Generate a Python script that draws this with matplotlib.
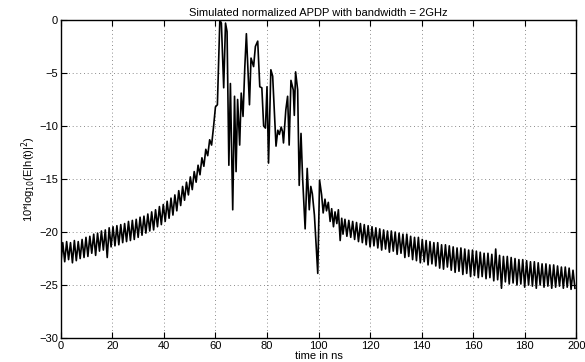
import matplotlib
matplotlib.use("Agg")
import matplotlib.pyplot as plt
import numpy as np

plt.rcParams['font.family'] = ['Liberation Sans', 'DejaVu Sans']

# rising part before the first arrival, sampled every 0.75 ns
dt = 0.75
db_rise = [
    -23.0, -21.0, -22.8, -20.9, -22.6, -21.0, -22.9, -20.8, -22.7, -20.9,
    -22.5, -20.7, -22.4, -20.5, -22.3, -20.4, -22.0, -20.2, -22.2, -20.1,
    -21.8, -19.9, -21.7, -19.8, -22.4, -19.6, -21.4, -19.5, -21.3, -19.4,
    -21.2, -19.3, -21.0, -19.2, -20.9, -19.0, -20.8, -18.9, -20.7, -18.8,
    -20.5, -18.6, -20.3, -18.5, -20.1, -18.3, -19.9, -18.1, -19.8, -17.9,
    -19.5, -17.6, -19.3, -17.4, -19.0, -17.1, -18.7, -16.8, -18.4, -16.5,
    -18.0, -16.1, -17.5, -15.7, -17.0, -15.3, -16.5, -14.8, -16.0, -14.3,
    -15.3, -13.7, -14.6, -13.0, -13.8, -12.2, -12.8, -11.3, -11.8, -10.1,
    -8.2, -8.0,
]

# multipath burst, times
t_burst = [
    61.7, 62.3, 63.2, 63.9, 64.5, 65.2, 65.8, 66.7, 67.4, 68.0,
    68.6, 69.4, 70.0, 70.7, 71.4, 72.0, 73.2, 73.8, 74.8, 75.5,
    76.4, 77.2, 78.0, 78.7, 79.4, 80.0, 80.6, 81.5, 82.2, 83.5,
    84.2, 84.8, 85.5, 86.0, 86.4, 87.3, 88.0, 88.6, 89.3, 90.2,
    90.6, 91.1, 91.9, 92.5, 93.2, 93.8, 94.8, 95.6, 96.4, 97.0,
    97.6, 98.4, 99.7, 100.4, 101.2, 101.8, 102.5, 103.1, 103.8, 104.5,
    105.1, 105.8, 106.4, 107.1, 107.7, 108.4, 109.0,
]
db_burst = [
    0.0, -0.3, -6.4, -0.3, -1.1, -13.7, -6.0, -17.9, -7.2, -14.3,
    -7.5, -11.8, -6.9, -9.1, -4.4, -1.3, -8.0, -3.6, -4.4, -2.5,
    -2.0, -6.3, -6.4, -10.0, -10.2, -6.3, -13.5, -4.7, -5.3, -11.9,
    -10.4, -10.8, -10.1, -10.5, -11.6, -8.5, -7.2, -11.8, -5.7, -6.6,
    -9.0, -4.9, -6.6, -15.6, -10.7, -14.8, -19.7, -14.0, -17.9, -15.7,
    -16.4, -18.4, -23.9, -15.1, -16.5, -18.2, -16.9, -18.0, -17.2, -19.0,
    -17.8, -19.5, -18.1, -19.2, -17.9, -20.8, -18.7,
]

# decaying tail, from 109.5 ns every 0.75 ns
t_tail0 = 109.5
db_tail = [
    -20.2, -18.8, -20.4, -18.9, -20.5, -19.0, -20.7, -19.1, -20.9, -19.2,
    -21.0, -19.3, -21.2, -19.4, -21.4, -19.5, -21.3, -19.6, -21.5, -19.7,
    -21.7, -19.8, -21.6, -19.9, -21.9, -19.9, -21.8, -20.0, -22.1, -20.1,
    -22.0, -20.2, -22.4, -20.2, -22.3, -20.4, -22.6, -20.5, -22.7, -20.5,
    -22.9, -20.7, -22.8, -20.8, -23.1, -20.9, -23.0, -21.0, -23.2, -21.0,
    -23.4, -21.2, -23.5, -21.2, -23.3, -21.3, -23.6, -21.4, -23.8, -21.5,
    -23.7, -21.5, -24.0, -21.6, -23.9, -21.7, -24.2, -21.7, -24.1, -21.8,
    -24.3, -21.9, -24.2, -22.0, -24.4, -22.0, -24.3, -22.1, -24.6, -21.6,
    -24.5, -22.2, -25.3, -22.3, -24.7, -22.3, -24.9, -22.4, -24.8, -22.5,
    -25.0, -22.6, -24.9, -22.6, -25.2, -22.7, -25.0, -22.8, -25.1, -22.8,
    -25.3, -22.9, -25.0, -23.0, -25.2, -23.0, -25.1, -23.1, -25.3, -23.1,
    -25.2, -23.2, -25.1, -23.3, -25.3, -23.3, -25.2, -23.4, -25.4, -23.6,
    -25.3,
]

t_rise = np.arange(len(db_rise)) * dt
t_tail = t_tail0 + np.arange(len(db_tail)) * dt
t = np.concatenate([t_rise, t_burst, t_tail])
apdp = np.concatenate([db_rise, db_burst, db_tail])

fig = plt.figure(figsize=(5.85, 3.62), dpi=100)
ax = fig.add_axes([0.104, 0.066, 0.881, 0.879])

ax.plot(t, apdp, color='black', linewidth=1.2)

ax.set_xlim(0, 200)
ax.set_ylim(-30, 0)
ax.set_xticks(np.arange(0, 201, 20))
ax.set_yticks(np.arange(-30, 1, 5))
ax.grid(True, color='#666666', linestyle=(0, (1, 3.5)), linewidth=0.6)
ax.tick_params(direction='in', length=4, labelsize=8, top=True, right=True, pad=2)
for s in ax.spines.values():
    s.set_linewidth(1.0)

ax.set_title('Simulated normalized APDP with bandwidth = 2GHz', fontsize=8, pad=3)
ax.set_xlabel('time in ns', fontsize=8, labelpad=0)
ax.set_ylabel(r'10*log$_{10}$(E|h(t)|$^2$)', fontsize=8, labelpad=1)

fig.savefig('out.png', dpi=100)
